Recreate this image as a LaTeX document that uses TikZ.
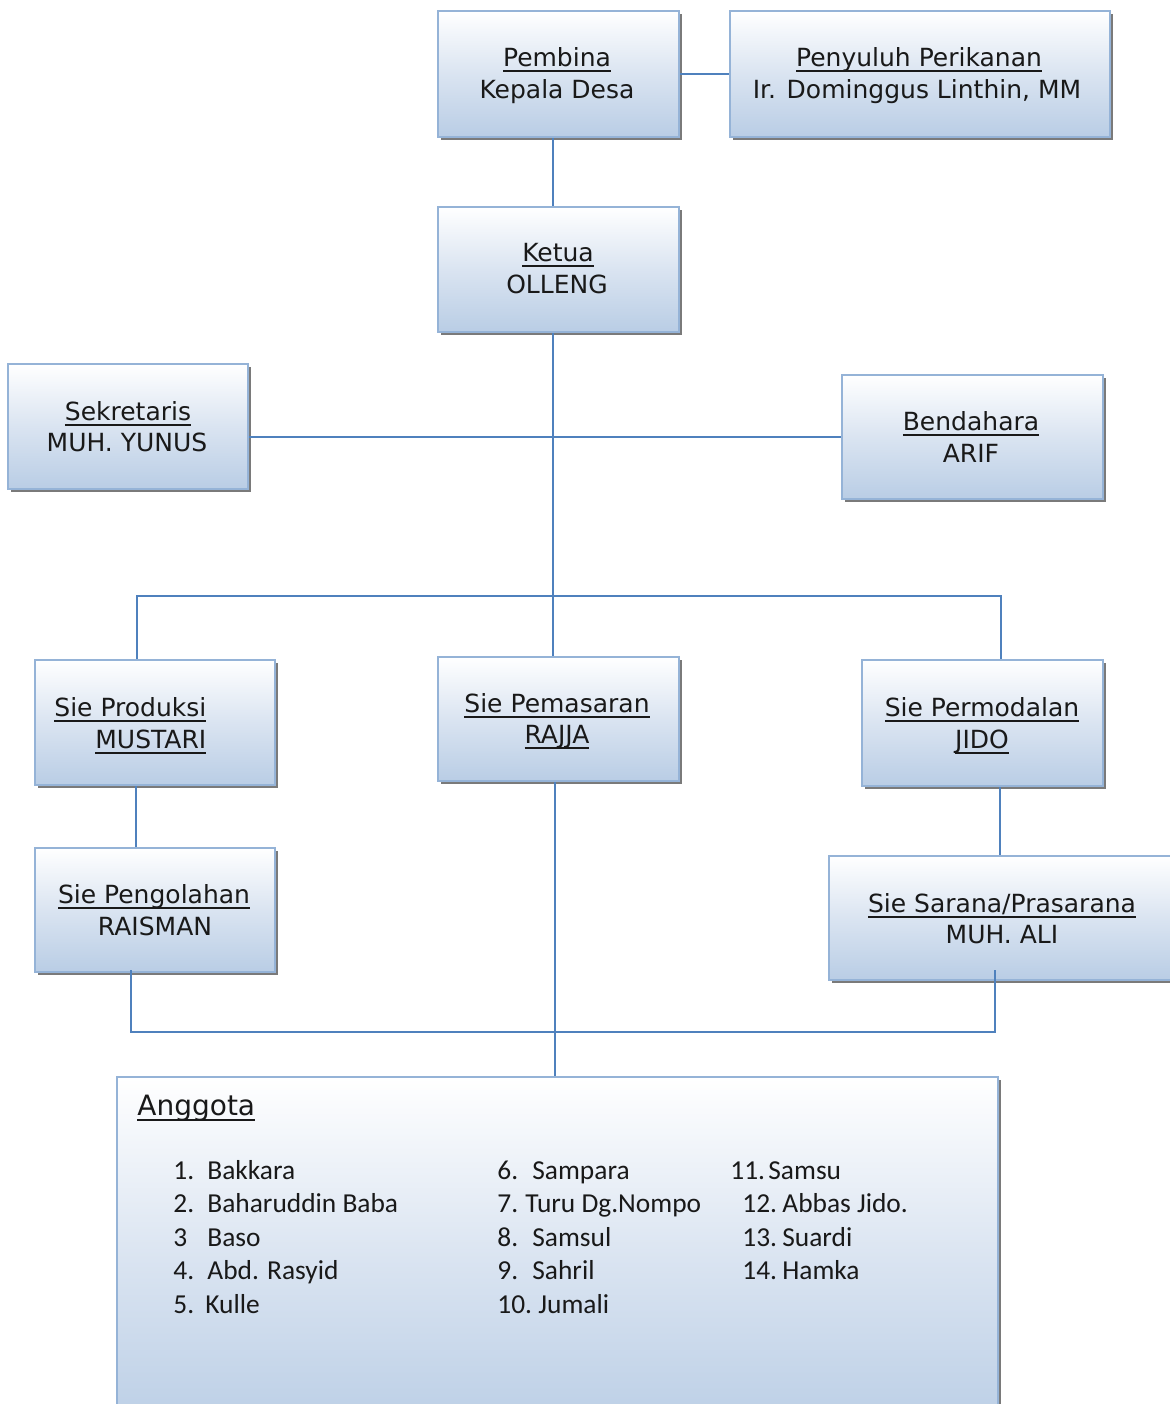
\documentclass[tikz,border=0pt]{standalone}
\usepackage{fontspec}
\setmainfont{DejaVu Sans}
\newfontfamily\listfont{Carlito}
\usetikzlibrary{fit,shadows,calc}
\definecolor{boxline}{HTML}{95B3D7}
\definecolor{boxbot}{HTML}{B9CDE5}
\definecolor{boxmid}{HTML}{DAE4F1}
\definecolor{connc}{HTML}{4F81BD}
\definecolor{shad}{HTML}{7A7A7A}
\newcommand\myul[1]{\leavevmode\setbox0\hbox{#1}\rlap{\raise-2.2pt\hbox{\vrule width\wd0 height 0pt depth 1pt}}\box0}
\tikzset{
 orgbox/.style={draw=boxline, line width=1.2pt, top color=white, bottom color=boxbot, middle color=boxmid, inner sep=0pt,
   general shadow={fill=shad, shadow xshift=1.6pt, shadow yshift=-1.6pt}},
 lbl/.style={anchor=base, inner sep=0pt, text=black!90, font=\fontsize{12.5}{15}\selectfont},
 lbll/.style={lbl, anchor=base west},
 liste/.style={anchor=base west, inner sep=0pt, text=black!90, font=\listfont\fontsize{13.7}{16}\selectfont},
 connl/.style={draw=connc, line width=1pt},
}
\begin{document}
\begin{tikzpicture}[x=0.5pt,y=-0.5pt]
\useasboundingbox (0,0) rectangle (1170,1404);
\clip (0,0) rectangle (1170,1404);
% boxes
\node[orgbox, fit={(438,11) (679,137)}] (pembina) {};
\node[orgbox, fit={(730,11) (1110,137)}] (penyuluh) {};
\node[orgbox, fit={(438,207) (679,332)}] (ketua) {};
\node[orgbox, fit={(8,364) (248,489)}] (sekretaris) {};
\node[orgbox, fit={(842,375) (1103,499)}] (bendahara) {};
\node[orgbox, fit={(35,660) (275,785)}] (produksi) {};
\node[orgbox, fit={(438,657) (679,781)}] (pemasaran) {};
\node[orgbox, fit={(862,660) (1103,786)}] (permodalan) {};
\node[orgbox, fit={(35,848) (275,972)}] (pengolahan) {};
\node[orgbox, fit={(829,856) (1195,980)}] (sarana) {};
\node[orgbox, fit={(117,1077) (998,1440)}] (anggota) {};
% box texts
\node[lbl] (pembinaA) at (557,66) {\myul{Pembina}};
\node[lbl] (pembinaB) at (557,98) {Kepala Desa};
\node[lbl] (penyuluhA) at (919,66) {\myul{Penyuluh Perikanan}};
\node[lbl] (penyuluhB) at (917,98) {Ir. Dominggus Linthin, MM};
\node[lbl] (ketuaA) at (558,261) {\myul{Ketua}};
\node[lbl] (ketuaB) at (557,293) {OLLENG};
\node[lbl] (sekA) at (128,420) {\myul{Sekretaris}};
\node[lbl] (sekB) at (127,451) {MUH. YUNUS};
\node[lbl] (benA) at (971,430) {\myul{Bendahara}};
\node[lbl] (benB) at (971,462) {ARIF};
\node[lbll] (prodA) at (54,716) {\myul{Sie Produksi}};
\node[lbll] (prodB) at (95,748) {\myul{MUSTARI}};
\node[lbl] (pemA) at (557,712) {\myul{Sie Pemasaran}};
\node[lbl] (pemB) at (557,743) {\myul{RAJJA}};
\node[lbl] (permA) at (982,716) {\myul{Sie Permodalan}};
\node[lbl] (permB) at (982,748) {\myul{JIDO}};
\node[lbl] (pengA) at (154,903) {\myul{Sie Pengolahan}};
\node[lbl] (pengB) at (155,935) {RAISMAN};
\node[lbl] (sarA) at (1002,912) {\myul{Sie Sarana/Prasarana}};
\node[lbl] (sarB) at (1002,943) {MUH. ALI};
\node[lbll, font=\fontsize{14}{16}\selectfont] (anggT) at (137,1115) {\myul{Anggota}};
% member list
\node[liste] (n1) at (173,1179) {1.};  \node[liste] (t1) at (207,1179) {Bakkara};
\node[liste] (n2) at (173,1212) {2.};  \node[liste] (t2) at (207,1212) {Baharuddin Baba};
\node[liste] (n3) at (173,1246) {3};   \node[liste] (t3) at (207,1246) {Baso};
\node[liste] (n4) at (173,1279) {4.};  \node[liste] (t4) at (207,1279) {Abd. Rasyid};
\node[liste] (n5) at (173,1313) {5.};  \node[liste] (t5) at (205,1313) {Kulle};
\node[liste] (n6) at (497,1179) {6.};  \node[liste] (t6) at (532,1179) {Sampara};
\node[liste] (n7) at (497,1212) {7.};  \node[liste] (t7) at (525,1212) {Turu Dg.Nompo};
\node[liste] (n8) at (497,1246) {8.};  \node[liste] (t8) at (532,1246) {Samsul};
\node[liste] (n9) at (497,1279) {9.};  \node[liste] (t9) at (532,1279) {Sahril};
\node[liste] (n10) at (497,1313) {10.}; \node[liste] (t10) at (538,1313) {Jumali};
\node[liste] (n11) at (730,1179) {11.}; \node[liste] (t11) at (768,1179) {Samsu};
\node[liste] (n12) at (742,1212) {12.}; \node[liste] (t12) at (782,1212) {Abbas Jido.};
\node[liste] (n13) at (742,1246) {13.}; \node[liste] (t13) at (782,1246) {Suardi};
\node[liste] (n14) at (742,1279) {14.}; \node[liste] (t14) at (782,1279) {Hamka};
% junction coordinates
\coordinate (cx) at (553,0);
\coordinate (hL) at (137,596);
\coordinate (hR) at (1001,596);
\coordinate (bL) at (131,1032);
\coordinate (bR) at (995,1032);
\coordinate (bLt) at (131,970);
\coordinate (bRt) at (995,970);
% connectors
\draw[connl] (pembina.east) -- (penyuluh.west);
\draw[connl] (cx |- pembina.south) -- (cx |- ketua.north);
\draw[connl] (cx |- ketua.south) -- (cx |- pemasaran.north);
\draw[connl] (sekretaris.east |- bendahara.west) -- (bendahara.west);
\draw[connl] (hL |- produksi.north) -- (hL) -- (hR) -- (hR |- permodalan.north);
\draw[connl] ([xshift=-9.5pt]produksi.south) -- ([xshift=-9.5pt]pengolahan.north);
\draw[connl] ([xshift=8.75pt]permodalan.south) -- ([xshift=8.75pt]permodalan.south |- sarana.north);
\draw[connl] (bLt) -- (bL) -- (bR) -- (bRt);
\draw[connl] ([xshift=-2pt]pemasaran.south) -- ([xshift=-2pt]pemasaran.south |- anggota.north);
\end{tikzpicture}
\end{document}
